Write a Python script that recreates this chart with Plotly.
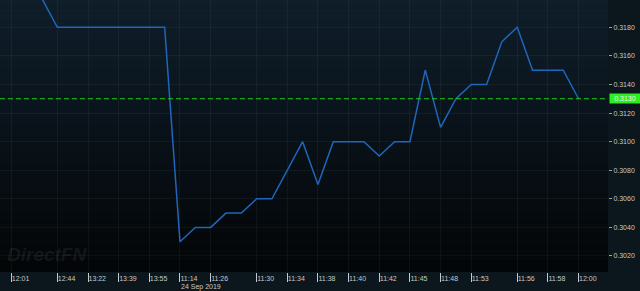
import plotly.graph_objects as go

# ---- data ----
values = [0.3220, 0.3210, 0.3200, 0.3180, 0.3180, 0.3180, 0.3180, 0.3180, 0.3180, 0.3180,
          0.3180, 0.3030, 0.3040, 0.3040, 0.3050, 0.3050, 0.3060, 0.3060, 0.3080, 0.3100,
          0.3070, 0.3100, 0.3100, 0.3100, 0.3090, 0.3100, 0.3100, 0.3150, 0.3110, 0.3130,
          0.3140, 0.3140, 0.3170, 0.3180, 0.3150, 0.3150, 0.3150, 0.3130]
tick_index = [0, 3, 5, 7, 9, 11, 13, 16, 18, 20, 22, 24, 26, 28, 30, 33, 35, 37]
tick_labels = ["12:01", "12:44", "13:22", "13:39", "13:55", "11:14", "11:26", "11:30", "11:34",
               "11:38", "11:40", "11:42", "11:45", "11:48", "11:53", "11:56", "11:58", "12:00"]
y_ticks = [0.3020, 0.3040, 0.3060, 0.3080, 0.3100, 0.3120, 0.3140, 0.3160, 0.3180, 0.3200]
last_price = 0.3130
date_label = "24 Sep 2019"
date_index = 11

x = list(range(len(values)))

fig = go.Figure()
fig.add_trace(go.Scatter(x=x, y=values, mode="lines",
                         line=dict(color="#1f66bc", width=1.5), hoverinfo="skip",
                         showlegend=False))

# background gradient bands for plot area
top = (15, 30, 42)
bot = (3, 5, 7)
n = 40
shapes = []
for k in range(n):
    t = k / (n - 1)
    c = tuple(int(round(top[j] + (bot[j] - top[j]) * t)) for j in range(3))
    shapes.append(dict(type="rect", xref="paper", yref="paper",
                       x0=0, x1=1, y0=1 - (k + 1) / n, y1=1 - k / n,
                       fillcolor="rgb(%d,%d,%d)" % c, line=dict(width=0), layer="below"))
shapes.append(dict(type="line", xref="paper", yref="y", x0=0, x1=1,
                   y0=last_price, y1=last_price,
                   line=dict(color="#1fd21f", width=1, dash="5px,3px"), layer="above"))

fig.update_layout(
    width=640, height=291,
    margin=dict(l=0, r=32, t=0, b=19),
    paper_bgcolor="#0c161d",
    plot_bgcolor="rgba(0,0,0,0)",
    shapes=shapes,
    font=dict(family="Liberation Sans", size=7, color="#c8c8c8"),
    xaxis=dict(range=[-0.74, 38.92], tickmode="array", tickvals=tick_index,
               ticktext=tick_labels, showgrid=True, gridcolor="rgba(255,255,255,0.045)",
               gridwidth=1, zeroline=False, showline=False,
               ticks="outside", ticklen=9, tickwidth=1, tickcolor="#c8c8c8",
               ticklabelposition="outside right", tickfont=dict(size=7, color="#c8c8c8")),
    yaxis=dict(range=[0.30088, 0.31991], side="right", tickmode="array", tickvals=y_ticks,
               tickformat=".4f", showgrid=True, gridcolor="rgba(255,255,255,0.045)",
               zeroline=False, showline=False, ticks="outside", ticklen=3,
               tickcolor="#9aa0a4", tickfont=dict(size=7, color="#c8c8c8")),
    annotations=[
        dict(x=date_index, y=0, xref="x", yref="paper", yshift=-10, text=date_label,
             showarrow=False, xanchor="left", yanchor="top", borderpad=0,
             font=dict(size=7, color="#c8c8c8")),
        dict(x=1, y=last_price, xref="paper", yref="y", text="%.4f" % last_price,
             showarrow=False, xanchor="left", yanchor="middle", xshift=1,
             bgcolor="#2cf01a", width=30, height=9, font=dict(size=7, color="#f0f0f0"),
             borderpad=0),
        dict(x=0.008, y=0.02, xref="paper", yref="paper", text="<b><i>DirectFN</i></b>",
             showarrow=False, xanchor="left", yanchor="bottom",
             font=dict(size=19, color="rgba(255,255,255,0.07)", family="Liberation Sans")),
    ],
)

fig.write_html("out.html")
